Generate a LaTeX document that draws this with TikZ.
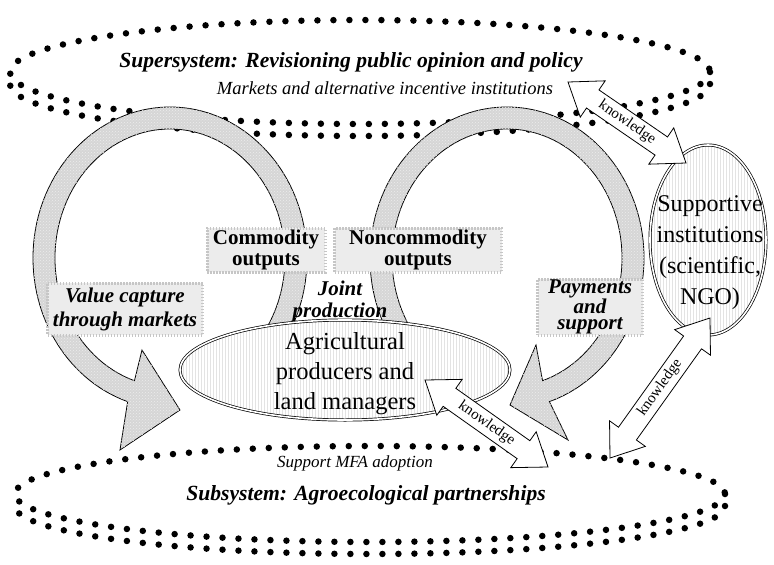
\documentclass[tikz,border=0pt]{standalone}
\usepackage{fontspec}
\setmainfont{Liberation Serif}
\usepackage{tikz}
\usetikzlibrary{patterns, calc, positioning, shapes.geometric}

\tikzset{
  dotring/.style={line width=6.5pt, line cap=round, dash pattern=on 0pt off 16pt},
  loopband/.style={draw=black, line width=0.8pt, fill=gray!32,
    postaction={pattern=crosshatch dots, pattern color=white!85!gray}},
  outbox/.style={fill=gray!15, draw=gray!45, line width=3pt, dash pattern=on 1.5pt off 1.5pt,
    align=center, inner sep=0pt, font=\fontsize{21}{21}\selectfont\bfseries},
  actor/.style={ellipse, draw, line width=0.7pt, double, double distance=1.6pt,
    preaction={fill=white}, pattern=vertical lines, pattern color=gray!22, inner sep=0pt},
  knowarrow/.style={draw=black, line width=0.8pt, fill=white, line join=miter},
  kntext/.style={font=\fontsize{15}{15}\selectfont, inner sep=1pt}
}

\newcommand{\fatarrow}[2]{%
  \draw[knowarrow] (#1)
    -- ($(#1)!30pt!(#2)!22pt!90:(#2)$) -- ($(#1)!30pt!(#2)!11pt!90:(#2)$)
    -- ($(#2)!30pt!(#1)!11pt!270:(#1)$) -- ($(#2)!30pt!(#1)!22pt!270:(#1)$)
    -- (#2)
    -- ($(#2)!30pt!(#1)!22pt!90:(#1)$) -- ($(#2)!30pt!(#1)!11pt!90:(#1)$)
    -- ($(#1)!30pt!(#2)!11pt!270:(#2)$) -- ($(#1)!30pt!(#2)!22pt!270:(#2)$)
    -- cycle;}

\begin{document}
\begin{tikzpicture}[x=1pt, y=-1pt]
\useasboundingbox (0,0) rectangle (774,565);

% dotted system rings
\coordinate (supc) at (360,72);
\coordinate (subc) at (370,494);
\draw[dotring] (supc) ellipse [x radius=350, y radius=52];
\draw[dotring] ($(supc)+(350,12)$) arc[start angle=0, end angle=180, x radius=350, y radius=52];
\draw[dotring] (subc) ellipse [x radius=355, y radius=48];
\draw[dotring] ($(subc)+(355,12)$) arc[start angle=0, end angle=180, x radius=355, y radius=48];

% the two loops
\coordinate (lc) at (170,258);
\coordinate (rc) at (507,258);
\draw[loopband] ($(lc)+(40:137 and 151)$)
  arc[start angle=40, end angle=-252, x radius=137, y radius=151]
  -- (120,450) -- (180,410) -- (142,350)
  -- ($(lc)+(-252:115 and 129)$)
  arc[start angle=-252, end angle=40, x radius=115, y radius=129] -- cycle;
\draw[loopband] ($(rc)+(140:137 and 151)$)
  arc[start angle=140, end angle=432, x radius=137, y radius=151]
  -- (568,440) -- (510,405) -- (536,345)
  -- ($(rc)+(432:115 and 129)$)
  arc[start angle=432, end angle=140, x radius=115, y radius=129] -- cycle;

% output boxes
\node[outbox, minimum width=118, minimum height=44] (comm) at (266,250) {Commodity\\outputs};
\node[outbox, minimum width=167, minimum height=44] (noncomm) at (418,250) {Noncommodity\\outputs};
\node[outbox, minimum width=155, minimum height=52, font=\fontsize{21}{24}\selectfont\bfseries\itshape] (value) at (125,309) {Value capture\\through markets};
\node[outbox, minimum width=105, minimum height=56, font=\fontsize{21}{15.5}\selectfont\bfseries\itshape] (pay) at (590,307) {Payments\\and\\support};
\node[font=\fontsize{21}{22}\selectfont\bfseries\itshape, align=center] (joint) at (340,301) {Joint\\production};

% actors
\node[actor, minimum width=330, minimum height=100] (agri) at (345,370) {};
\node[font=\fontsize{24.5}{30}\selectfont, align=center] (agritext) at (345,374) {Agricultural\\producers and\\land managers};
\node[actor, minimum width=116, minimum height=190] (supp) at (708,240) {};
\node[font=\fontsize{24}{31}\selectfont, align=center] (supptext) at (710,253) {Supportive\\institutions\\(scientific,\\NGO)};

% knowledge links
\coordinate (kA1) at (568,82);
\coordinate (kA2) at (686,163);
\coordinate (kB1) at (610,458);
\coordinate (kB2) at (710,318);
\coordinate (kC1) at (425,380);
\coordinate (kC2) at (548,467);
\fatarrow{kA1}{kA2}
\fatarrow{kB1}{kB2}
\fatarrow{kC1}{kC2}
\path (kA1) -- (kA2) node[midway, sloped, kntext] {knowledge};
\path (kB1) -- (kB2) node[midway, sloped, kntext] {knowledge};
\path (kC1) -- (kC2) node[midway, sloped, kntext] {knowledge};

% system labels
\node[font=\fontsize{21.6}{23}\selectfont\bfseries\itshape] (super) at (351,62) {Supersystem: Revisioning public opinion and policy};
\node[font=\fontsize{18.5}{20}\selectfont\itshape] (markets) at (385,88) {Markets and alternative incentive institutions};
\node[font=\fontsize{17}{19}\selectfont\itshape] (mfa) at (355,463) {Support MFA adoption};
\node[font=\fontsize{21.6}{23}\selectfont\bfseries\itshape] (sub) at (366,495) {Subsystem: Agroecological partnerships};
\end{tikzpicture}
\end{document}
